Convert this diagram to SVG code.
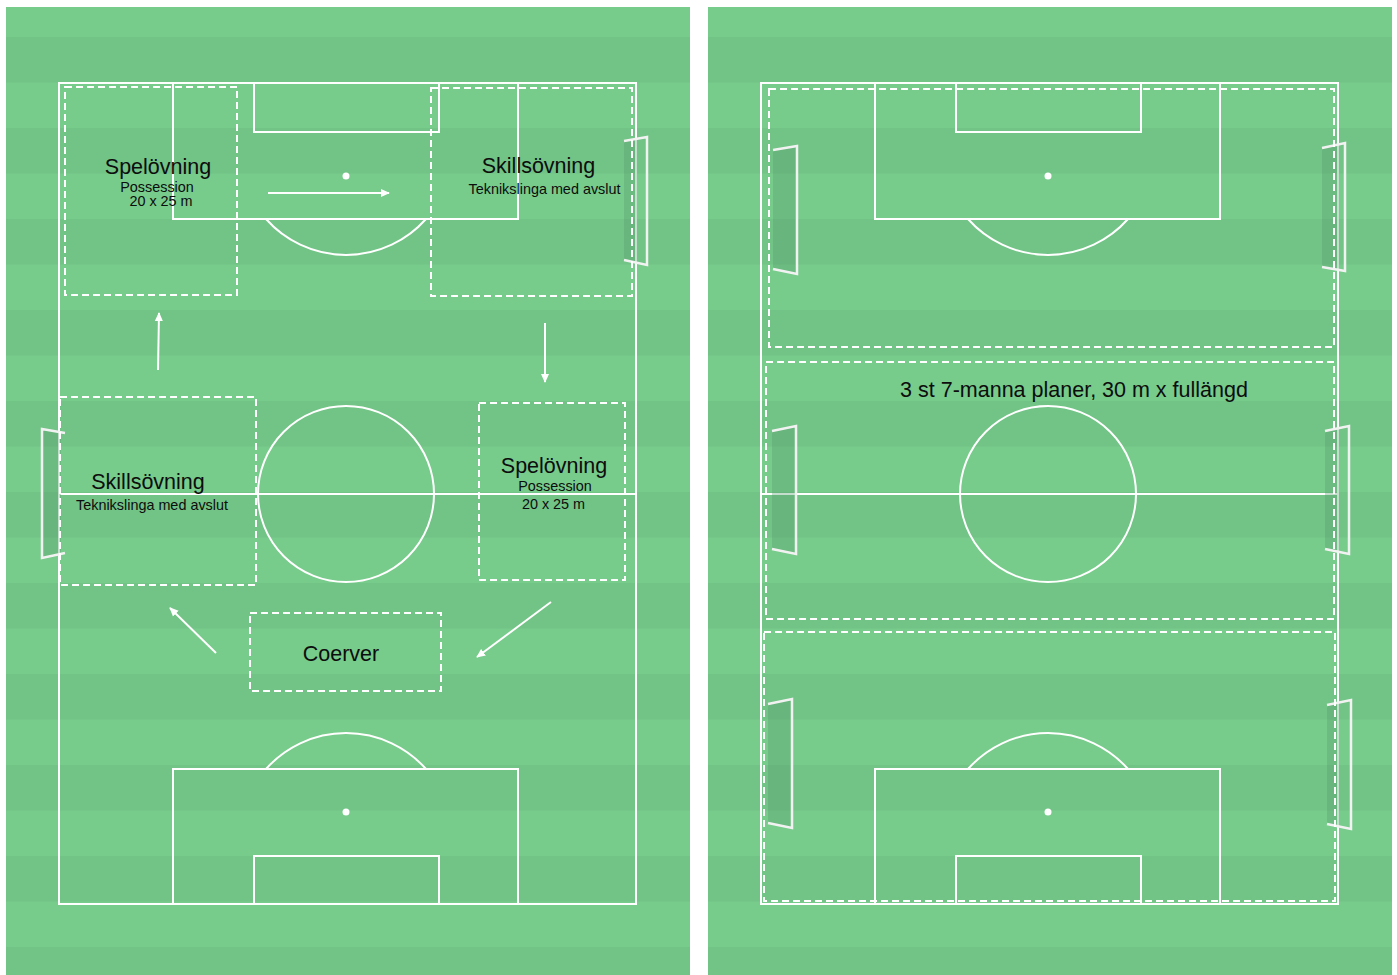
<svg xmlns="http://www.w3.org/2000/svg" width="1397" height="975" viewBox="0 0 1397 975">
<defs>
<pattern id="stripes" patternUnits="userSpaceOnUse" x="0" y="37" width="1397" height="91">
<rect x="0" y="0" width="1397" height="91" fill="#77cb8b"/>
<rect x="0" y="0" width="1397" height="45.5" fill="#71c386"/>
</pattern>
<marker id="ah" viewBox="0 0 10 10" refX="9" refY="5" markerWidth="9" markerHeight="9" markerUnits="userSpaceOnUse" orient="auto">
<path d="M0,0.5 L10,5 L0,9.5 z" fill="#ffffff"/>
</marker>
</defs>
<style>
.line{fill:none;stroke:#ffffff;stroke-width:2}
.spot{fill:#ffffff}
.dash{fill:none;stroke:#ffffff;stroke-width:2;stroke-dasharray:7 4}
.goal{fill:none;stroke:#f2f2f2;stroke-width:2.5;stroke-linejoin:miter}
.net{fill:#5a9f6c;fill-opacity:0.35}
.arrow{stroke:#ffffff;stroke-width:2;fill:none}
.t1{font-family:"Liberation Sans",Arial,Helvetica,sans-serif;font-size:21.5px;fill:#0d0d0d;text-anchor:middle}
.t2{font-family:"Liberation Sans",Arial,Helvetica,sans-serif;font-size:14.4px;fill:#0d0d0d;text-anchor:middle}
</style>
<rect x="0" y="0" width="1397" height="975" fill="#ffffff"/>
<g id="panel-left">
<rect x="6" y="7" width="684" height="968" fill="url(#stripes)"/>
<rect x="59" y="83" width="577" height="821" class="line"/>
<line x1="59" y1="494" x2="636" y2="494" class="line"/>
<circle cx="346" cy="494" r="88" class="line"/>
<rect x="173" y="83" width="345" height="136" class="line"/>
<rect x="254" y="83" width="185" height="49" class="line"/>
<circle cx="346" cy="176" r="3.5" class="spot"/>
<path d="M266 219 A107 107 0 0 0 426 219" class="line"/>
<rect x="173" y="769" width="345" height="135" class="line"/>
<rect x="254" y="856" width="185" height="48" class="line"/>
<circle cx="346" cy="812" r="3.5" class="spot"/>
<path d="M266 769 A107 107 0 0 1 426 769" class="line"/>
<polygon points="42,429 61,432 61,554 42,558" class="net"/>
<path d="M65 433 L42 429 L42 558 L65 553" class="goal"/>
<polygon points="624,141 637,139 637,262 624,260" class="net"/>
<path d="M624 141 L647 137 L647 265 L624 260" class="goal"/>
</g>
<g id="panel-right">
<rect x="708" y="7" width="684" height="968" fill="url(#stripes)"/>
<rect x="761" y="83" width="577" height="821" class="line"/>
<line x1="761" y1="494" x2="1338" y2="494" class="line"/>
<circle cx="1048" cy="494" r="88" class="line"/>
<rect x="875" y="83" width="345" height="136" class="line"/>
<rect x="956" y="83" width="185" height="49" class="line"/>
<circle cx="1048" cy="176" r="3.5" class="spot"/>
<path d="M968 219 A107 107 0 0 0 1128 219" class="line"/>
<rect x="875" y="769" width="345" height="135" class="line"/>
<rect x="956" y="856" width="185" height="48" class="line"/>
<circle cx="1048" cy="812" r="3.5" class="spot"/>
<path d="M968 769 A107 107 0 0 1 1128 769" class="line"/>
<polygon points="773,150 797,146 797,274 773,269" class="net"/>
<path d="M773 150 L797 146 L797 274 L773 269" class="goal"/>
<polygon points="1322,148 1339,145 1339,269 1322,267" class="net"/>
<path d="M1322 148 L1345 143 L1345 271 L1322 267" class="goal"/>
<polygon points="772,431 796,426 796,554 772,549" class="net"/>
<path d="M772 431 L796 426 L796 554 L772 549" class="goal"/>
<polygon points="1325,431 1339,429 1339,551 1325,549" class="net"/>
<path d="M1325 431 L1349 426 L1349 554 L1325 549" class="goal"/>
<polygon points="768,704 792,699 792,828 768,823" class="net"/>
<path d="M768 704 L792 699 L792 828 L768 823" class="goal"/>
<polygon points="1327,705 1339,703 1339,826 1327,824" class="net"/>
<path d="M1327 705 L1351 700 L1351 829 L1327 824" class="goal"/>
</g>
<g id="node-spelovning-top">
<rect x="65" y="87" width="172" height="208" class="dash"/>
<text x="158" y="174" class="t1">Spelövning</text>
<text x="157" y="192" class="t2">Possession</text>
<text x="161" y="206" class="t2">20 x 25 m</text>
</g>
<g id="node-skillsovning-top">
<rect x="431" y="88" width="201" height="208" class="dash"/>
<text x="538.5" y="173" class="t1">Skillsövning</text>
<text x="544.5" y="194" class="t2">Teknikslinga med avslut</text>
</g>
<g id="node-skillsovning-mid">
<rect x="60" y="397" width="196" height="188" class="dash"/>
<text x="148" y="489" class="t1">Skillsövning</text>
<text x="152" y="510" class="t2">Teknikslinga med avslut</text>
</g>
<g id="node-spelovning-mid">
<rect x="479" y="403" width="146" height="177" class="dash"/>
<text x="554" y="473" class="t1">Spelövning</text>
<text x="555" y="491" class="t2">Possession</text>
<text x="553.5" y="509" class="t2">20 x 25 m</text>
</g>
<g id="node-coerver">
<rect x="250" y="613" width="191" height="78" class="dash"/>
<text x="341" y="661" class="t1">Coerver</text>
</g>
<g id="node-planer">
<rect x="769" y="89" width="565" height="258" class="dash"/>
<rect x="766" y="362" width="568" height="257" class="dash"/>
<rect x="764" y="632" width="571" height="269" class="dash"/>
<text x="1074" y="397" class="t1">3 st 7-manna planer, 30 m x fullängd</text>
</g>
<g id="connectors">
<line x1="268" y1="193" x2="389" y2="193" class="arrow" marker-end="url(#ah)"/>
<line x1="545" y1="323" x2="545" y2="382" class="arrow" marker-end="url(#ah)"/>
<line x1="551" y1="602" x2="477" y2="657" class="arrow" marker-end="url(#ah)"/>
<line x1="216" y1="653" x2="170" y2="608" class="arrow" marker-end="url(#ah)"/>
<line x1="158" y1="370" x2="159" y2="313" class="arrow" marker-end="url(#ah)"/>
</g>
</svg>
